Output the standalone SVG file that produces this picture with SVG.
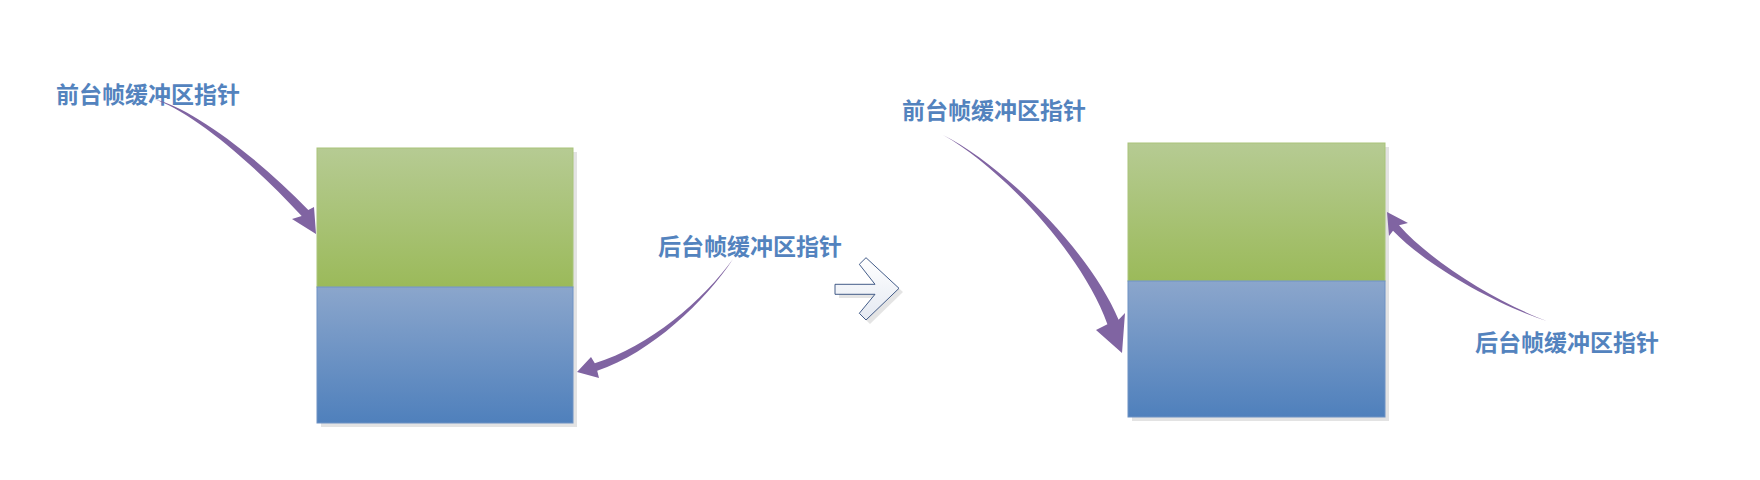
<svg xmlns="http://www.w3.org/2000/svg" width="1760" height="480" viewBox="0 0 1760 480">
<defs>
<linearGradient id="gGreen" x1="0" y1="0" x2="0" y2="1"><stop offset="0" stop-color="#B6CB93"/><stop offset="1" stop-color="#9BBA5A"/></linearGradient>
<linearGradient id="gBlue" x1="0" y1="0" x2="0" y2="1"><stop offset="0" stop-color="#8BA6CC"/><stop offset="1" stop-color="#4F80BC"/></linearGradient>
<linearGradient id="gArrow" x1="0" y1="0" x2="0" y2="1"><stop offset="0" stop-color="#FFFFFF"/><stop offset="1" stop-color="#E4E9F2"/></linearGradient>
</defs>
<style>
.lbl{font-family:"Noto Sans CJK SC","Noto Sans",sans-serif;font-size:23px;font-weight:bold;fill:#5383BE;}
.shadow{fill:#E3E3E3;}
.green{fill:url(#gGreen);stroke:#A9C47A;stroke-width:1;}
.blue{fill:url(#gBlue);stroke:#6E92C4;stroke-width:1;}
.ptr{fill:#8064A2;}
</style>
<rect width="1760" height="480" fill="#FFFFFF"/>

<g id="buffer-left">
<rect class="shadow" x="321" y="152" width="256" height="275"/>
<rect class="green" x="317" y="148" width="256" height="139"/>
<rect class="blue" x="317" y="287" width="256" height="136"/>
</g>

<g id="buffer-right">
<rect class="shadow" x="1132" y="147" width="257" height="274"/>
<rect class="green" x="1128" y="143" width="257" height="138"/>
<rect class="blue" x="1128" y="281" width="257" height="136"/>
</g>

<g id="label-front-left"><text class="lbl" x="56" y="103">前台帧缓冲区指针</text></g>
<g id="label-back-left"><text class="lbl" x="658" y="255">后台帧缓冲区指针</text></g>
<g id="label-front-right"><text class="lbl" x="902" y="119">前台帧缓冲区指针</text></g>
<g id="label-back-right"><text class="lbl" x="1475" y="351">后台帧缓冲区指针</text></g>

<g id="transition-arrow">
<path d="M839,288 L879,288 L863,268 L870,262 L903,292 L870,324 L863,317 L879,298 L839,298 Z" fill="#D9D9D9" opacity="0.7"/>
<path d="M835,284.3 L875,284.3 L859.3,264.3 L866,257.7 L899,288.3 L866,320 L859.3,313.3 L875,294.3 L835,294.3 Z" fill="url(#gArrow)" stroke="#2F4B7C" stroke-width="0.9" stroke-linejoin="miter"/>
</g>

<g id="connectors">
<path class="ptr" d="M153,99 C190.8,106.7 257.6,157.6 308.3,209.9 L314,207 L316,234 L292,219 L301.7,216.1 C252.4,162.4 189.2,109.3 153,99 Z"/>
<path class="ptr" d="M733,259 C705.9,300.8 650.9,352.9 597.2,370.8 L599,378 L577,372 L591,357 L594.8,363.2 C649.1,347.2 704.1,299.2 733,259 Z"/>
<path class="ptr" d="M943,135 C1000.9,163.8 1088.7,248.6 1118.6,319.8 L1125,313 L1122,353 L1096,330 L1107.4,324.2 C1081.3,251.4 999.1,166.2 943,135 Z"/>
<path class="ptr" d="M1547,321 C1500.5,303.9 1432.2,263 1399,225.3 L1408,223 L1387,212 L1389,236 L1393,230.7 C1427.8,267 1499.5,306.1 1547,321 Z"/>
</g>
</svg>
